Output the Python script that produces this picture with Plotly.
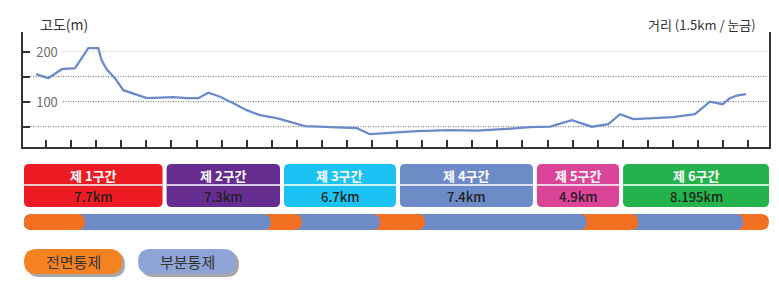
import plotly.graph_objects as go

# ---------------- data ----------------
route_km = [0.0, 0.73, 1.53, 2.32, 3.11, 3.70, 3.90, 4.20, 4.69, 5.19, 6.58, 8.16, 8.96,
            9.65, 10.24, 10.94, 11.73, 12.52, 13.31, 14.30, 15.99, 19.06, 19.85, 22.62,
            24.60, 26.19, 27.77, 29.36, 30.55, 31.84, 33.03, 34.01, 34.71, 35.50, 36.69,
            37.87, 39.16, 40.05, 40.81, 41.24, 41.64, 42.195]
elevation_m = [155, 147, 165, 167, 207, 207, 183, 165, 147, 123, 107, 109, 107,
               107, 118, 110, 97, 83, 73, 67, 51, 47, 35, 41,
               43, 42, 45, 49, 50, 63, 50, 55, 75, 65, 67,
               69, 75, 100, 95, 107, 112, 115]

y_ticks = [50, 100, 150, 200]
y_tick_labels = ["", "100", "", "200"]

section_names = ["제 1구간", "제 2구간", "제 3구간", "제 4구간", "제 5구간", "제 6구간"]
section_km = [7.7, 7.3, 6.7, 7.4, 4.9, 8.195]
section_colors = ["#ED1C24", "#662D91", "#1CC2F1", "#6C8BC7", "#DB4497", "#23B24C"]
split_marks_km = [7.64, 14.62, 21.51, 29.65, 34.77]   # triangle marks as drawn

closure_type = ["전면통제", "부분통제", "전면통제", "부분통제", "전면통제",
                "부분통제", "전면통제", "부분통제", "전면통제"]
closure_end_km = [2.91, 13.95, 15.79, 20.44, 23.12, 32.73, 35.79, 42.03, 43.56]
closure_colors = {"전면통제": "#F37021", "부분통제": "#6C8BC7"}
legend_colors = {"전면통제": "#F58220", "부분통제": "#8EA4D6"}

# ---------------- geometry helpers ----------------
W, H = 779, 282
KM0_PX, PX_PER_KM = 36.0, 16.827
FONT = "Noto Sans CJK KR"


def kx(px):
    return (px - KM0_PX) / PX_PER_KM


def kpx(km):
    return KM0_PX + km * PX_PER_KM


def py(px):
    return 1 - px / H


def rrect_path(x0, x1, y0, y1, r):
    r = min(r, (x1 - x0) / 2, (y1 - y0) / 2)
    pts = [("M", (x0 + r, y0)), ("L", (x1 - r, y0)), ("Q", (x1, y0), (x1, y0 + r)),
           ("L", (x1, y1 - r)), ("Q", (x1, y1), (x1 - r, y1)), ("L", (x0 + r, y1)),
           ("Q", (x0, y1), (x0, y1 - r)), ("L", (x0, y0 + r)), ("Q", (x0, y0), (x0 + r, y0))]
    s = ""
    for op in pts:
        s += op[0] + " " + " ".join(f"{kx(p[0]):.5f},{py(p[1]):.5f}" for p in op[1:]) + " "
    return s + "Z"


fig = go.Figure()

fig.add_trace(go.Scatter(x=route_km, y=elevation_m, mode="lines",
                         line=dict(color="#6A8ACB", width=2.3), hoverinfo="skip"))
fig.add_trace(go.Scatter(x=split_marks_km, y=[-1.5] * len(split_marks_km), mode="markers",
                         marker=dict(symbol="triangle-down", size=10, color="#222"),
                         cliponaxis=False, hoverinfo="skip"))

AX_L, AX_R, AX_T, AX_B = 23, 769, 32, 147
shapes = []
annotations = []

# gridlines
for v in y_ticks:
    shapes.append(dict(type="line", xref="x", yref="y", x0=kx(AX_L), x1=kx(AX_R - 2), y0=v, y1=v,
                       line=dict(color="#BBBBBB" if v == 200 else "#666666", width=1, dash="1px,1.5px"),
                       layer="below"))
for v, t in zip(y_ticks, y_tick_labels):
    if t:
        annotations.append(dict(x=kx(47), y=v, xref="x", yref="y", text=t, showarrow=False,
                                bgcolor="white", width=30, borderpad=0, yanchor="middle",
                                font=dict(family=FONT, size=13, color="#6E6E6E")))

annotations.append(dict(x=38 / W, y=py(24), xref="paper", yref="paper", text="고도(m)",
                        xanchor="left", yanchor="middle", showarrow=False,
                        font=dict(family=FONT, size=14, color="#333")))
annotations.append(dict(x=758 / W, y=py(24), xref="paper", yref="paper", text="거리 (1.5km / 눈금)",
                        xanchor="right", yanchor="middle", showarrow=False,
                        font=dict(family=FONT, size=13, color="#333")))

# section boxes
edges_px = [24] + [kpx(s) for s in split_marks_km] + [769]
BOX_T, BOX_M, BOX_B = 164, 185, 207
for i, (name, km, col) in enumerate(zip(section_names, section_km, section_colors)):
    x0 = edges_px[i] + (0 if i == 0 else 2)
    x1 = edges_px[i + 1] - (0 if i == len(section_names) - 1 else 2)
    shapes.append(dict(type="path", xref="x", yref="paper", path=rrect_path(x0, x1, BOX_T, BOX_B, 5),
                       fillcolor=col, line=dict(width=0)))
    shapes.append(dict(type="line", xref="x", yref="paper", x0=kx(x0), x1=kx(x1),
                       y0=py(BOX_M), y1=py(BOX_M), line=dict(color="white", width=1.5)))
    xc = kx((x0 + x1) / 2)
    annotations.append(dict(x=xc, y=py(175), xref="x", yref="paper", text=name, showarrow=False,
                            yanchor="middle",
                            font=dict(family=FONT, size=13, color="white", weight="bold")))
    annotations.append(dict(x=xc, y=py(196.5), xref="x", yref="paper", text=f"{km:g}km",
                            showarrow=False, yanchor="middle",
                            font=dict(family=FONT, size=13, color="#231F20", weight=500)))

# closure bar
BAR_T, BAR_B = 214, 230
for t, e in reversed(list(zip(closure_type, closure_end_km))):
    shapes.append(dict(type="path", xref="x", yref="paper",
                       path=rrect_path(24, kpx(e), BAR_T, BAR_B, 8),
                       fillcolor=closure_colors[t], line=dict(width=0)))

# legend pills
for i, t in enumerate(["전면통제", "부분통제"]):
    x0 = 24 + i * 114
    x1 = x0 + 98
    shapes.append(dict(type="path", xref="x", yref="paper",
                       path=rrect_path(x0 + 3, x1 + 3, 252, 277, 12.5),
                       fillcolor="#A8A8A8", line=dict(width=0)))
    shapes.append(dict(type="path", xref="x", yref="paper",
                       path=rrect_path(x0, x1, 249, 274, 12.5),
                       fillcolor=legend_colors[t], line=dict(width=0)))
    annotations.append(dict(x=kx((x0 + x1) / 2), y=py(261.5), xref="x", yref="paper", text=t,
                            showarrow=False, yanchor="middle",
                            font=dict(family=FONT, size=15, color="#333")))

fig.update_layout(
    width=W, height=H, margin=dict(l=0, r=0, t=0, b=0),
    paper_bgcolor="white", plot_bgcolor="white", showlegend=False,
    xaxis=dict(domain=[AX_L / W, AX_R / W], range=[kx(AX_L), kx(AX_R)],
               showline=True, linecolor="#333", linewidth=2, showgrid=False, zeroline=False,
               ticks="inside", ticklen=7, tickwidth=1.5, tickcolor="#333",
               tickvals=[0.6 + 1.49 * k for k in range(29)], showticklabels=False, fixedrange=True),
    yaxis=dict(domain=[1 - AX_B / H, 1 - AX_T / H],
               range=[(151.7 - AX_B) * 2, (151.7 - AX_T) * 2],
               showline=True, linecolor="#333", linewidth=2, mirror=True,
               showgrid=False, zeroline=False, ticks="inside", ticklen=7, tickwidth=1.5,
               tickcolor="#333", tickvals=y_ticks, showticklabels=False, fixedrange=True),
    shapes=shapes, annotations=annotations,
)

fig.write_html("out.html", config={"displayModeBar": False},
               post_script="document.body.style.margin='0';document.body.style.overflow='hidden';")
